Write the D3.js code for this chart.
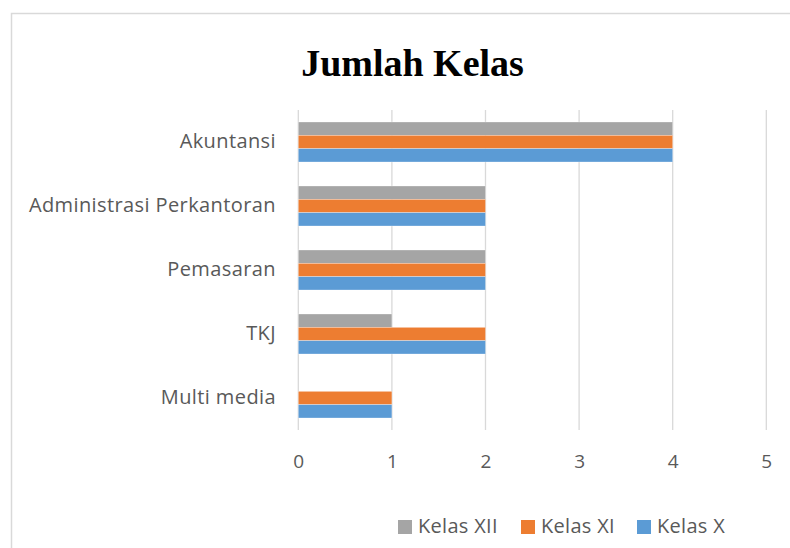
<!DOCTYPE html>
<html><head><meta charset="utf-8">
<script src="https://cdn.jsdelivr.net/npm/d3@7"></script>
<style>body{margin:0;background:#fff}svg{display:block}</style>
</head><body>
<svg id="c" width="790" height="548"></svg>
<script>
const categories = ["Akuntansi", "Administrasi Perkantoran", "Pemasaran", "TKJ", "Multi media"];
const seriesNames = ["Kelas XII", "Kelas XI", "Kelas X"];
const kelasXII = [4, 2, 2, 1, 0];
const kelasXI = [4, 2, 2, 2, 1];
const kelasX = [4, 2, 2, 2, 1];
const colors = ["#A5A5A5", "#ED7D31", "#5B9BD5"];
const xTicks = [0, 1, 2, 3, 4, 5];
const title = "Jumlah Kelas";

const seriesValues = [kelasXII, kelasXI, kelasX];
const FONT = "Open Sans, sans-serif";
const svg = d3.select("#c");
svg.append("rect").attr("x", 11.5).attr("y", 13.5).attr("width", 800).attr("height", 560)
  .attr("fill", "#fff").attr("stroke", "#D9D9D9").attr("stroke-width", 1.5);

const x = d3.scaleLinear().domain([0, 5]).range([298.3, 766.3]);
const y = d3.scaleBand().domain(categories).range([110, 430]).paddingInner(0.375).paddingOuter(0.1875);
const ySub = d3.scaleBand().domain(seriesNames).range([0, y.bandwidth()]);

// gridlines
svg.append("g").selectAll("line").data(xTicks).join("line")
  .attr("x1", d => x(d)).attr("x2", d => x(d)).attr("y1", 110).attr("y2", 430)
  .attr("stroke", "#D9D9D9").attr("stroke-width", 1.3);

// bars
const groups = svg.append("g").selectAll("g").data(categories).join("g")
  .attr("transform", c => `translate(0,${y(c)})`);
groups.selectAll("rect").data((c, i) => seriesNames.map((s, j) => ({s, j, v: seriesValues[j][i]})))
  .join("rect")
  .attr("x", x(0)).attr("y", d => ySub(d.s)).attr("height", ySub.bandwidth())
  .attr("width", d => x(d.v) - x(0)).attr("fill", d => colors[d.j])
  .attr("stroke", "#fff").attr("stroke-opacity", 0.5).attr("stroke-width", d => d.v > 0 ? 0.6 : 0);

// x axis labels
const xAxis = d3.axisBottom(x).tickValues(xTicks).tickSize(0).tickPadding(0).tickFormat(d3.format("d"));
const xg = svg.append("g").attr("transform", "translate(0,454)").call(xAxis);
xg.select(".domain").remove();
xg.selectAll("text").attr("fill", "#595959").attr("font-family", FONT).attr("font-size", 19);

// y axis labels
const yAxis = d3.axisLeft(y).tickSize(0).tickPadding(0);
const yg = svg.append("g").attr("transform", "translate(276,0)").call(yAxis);
yg.select(".domain").remove();
yg.selectAll("text").attr("fill", "#595959").attr("font-family", FONT).attr("font-size", 20)
  .attr("letter-spacing", 0.4);

// title
svg.append("text").attr("x", 412.5).attr("y", 75.5).attr("text-anchor", "middle")
  .attr("font-family", "Liberation Serif, Times New Roman, serif").attr("font-weight", "bold")
  .attr("font-size", 38).attr("fill", "#000").text(title);

// legend
const legendX = [398, 521, 637];
const lg = svg.append("g").selectAll("g").data(seriesNames).join("g")
  .attr("transform", (d, i) => `translate(${legendX[i]},520)`);
lg.append("rect").attr("width", 14).attr("height", 14).attr("fill", (d, i) => colors[i]);
lg.append("text").attr("x", 20).attr("y", 13.3)
  .attr("fill", "#595959").attr("font-family", FONT).attr("font-size", 20).attr("letter-spacing", 0.3).text(d => d);
</script>
</body></html>
